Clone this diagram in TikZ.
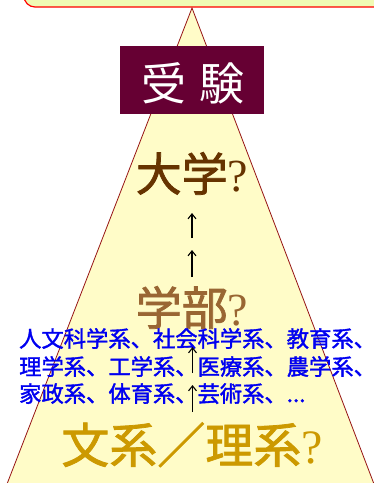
\documentclass[tikz,border=0pt]{standalone}
\usepackage{fontspec}
\setmainfont{Liberation Serif}
\newfontfamily\jp[FakeBold=1.6]{Noto Sans CJK JP}
\newfontfamily\jpw{Noto Sans CJK JP}
\usetikzlibrary{arrows.meta}
\definecolor{boxfill}{RGB}{240,250,180}
\definecolor{trifill}{RGB}{255,252,200}
\definecolor{tristroke}{RGB}{150,20,20}
\definecolor{examfill}{RGB}{102,0,51}
\definecolor{univc}{RGB}{102,51,0}
\definecolor{facc}{RGB}{153,102,51}
\definecolor{bunc}{RGB}{204,153,0}
\definecolor{bluec}{RGB}{0,0,240}
\tikzset{
  bigtext/.style={inner sep=0pt, anchor=base, font=\fontsize{46}{50}\selectfont},
  bluetext/.style={inner sep=0pt, anchor=base west, text=bluec, font=\jp\fontsize{22.3}{26}\selectfont},
  uparrow/.style={line width=1.1pt, -{Straight Barb[length=5pt,width=8pt,line width=1.1pt]}},
}
\begin{document}
\begin{tikzpicture}[x=1pt,y=-1pt]
\useasboundingbox (0,0) rectangle (374,483);
\clip (0,0) rectangle (374,483);
% top box
\draw[draw=red, line width=1.2pt, fill=boxfill, rounded corners=11pt] (24,-40) rectangle (420,7);
% triangle
\draw[draw=tristroke, line width=0.8pt, fill=trifill] (192,8) -- (7,484) -- (374,484) -- cycle;
% exam box
\node[fill=examfill, minimum width=144pt, minimum height=68pt, inner sep=0pt] (examb) at (192,80) {};
\node[inner sep=0pt, anchor=base, text=white, font=\jpw\fontsize{45}{48}\selectfont] (exam) at (193,100) {受\hspace{13pt}験};
% labels
\node[bigtext, text=univc] (univ) at (192,191) {{\jp 大学}?};
\node[bigtext, text=facc] (fac) at (192,325) {{\jp 学部}?};
\node[bluetext] (l1) at (19,347) {人文科学系、社会科学系、教育系、};
\node[bluetext] (l2) at (19,375) {理学系、工学系、医療系、農学系、};
\node[bluetext] (l3) at (19,402) {家政系、体育系、芸術系、...};
\node[inner sep=0pt, anchor=base, text=bunc, font=\fontsize{48}{52}\selectfont] (bun) at (192,463) {{\jp 文系／理系}?};
% arrows
\coordinate (a1s) at (192,238); \coordinate (a1e) at (192,213);
\coordinate (a2s) at (192,277); \coordinate (a2e) at (192,250);
\coordinate (a3s) at (192.5,373); \coordinate (a3e) at (192.5,347);
\coordinate (a4s) at (192.5,412); \coordinate (a4e) at (192.5,385);
\draw[uparrow] (a1s) -- (a1e);
\draw[uparrow] (a2s) -- (a2e);
\draw[uparrow] (a3s) -- (a3e);
\draw[uparrow] (a4s) -- (a4e);
\end{tikzpicture}
\end{document}
